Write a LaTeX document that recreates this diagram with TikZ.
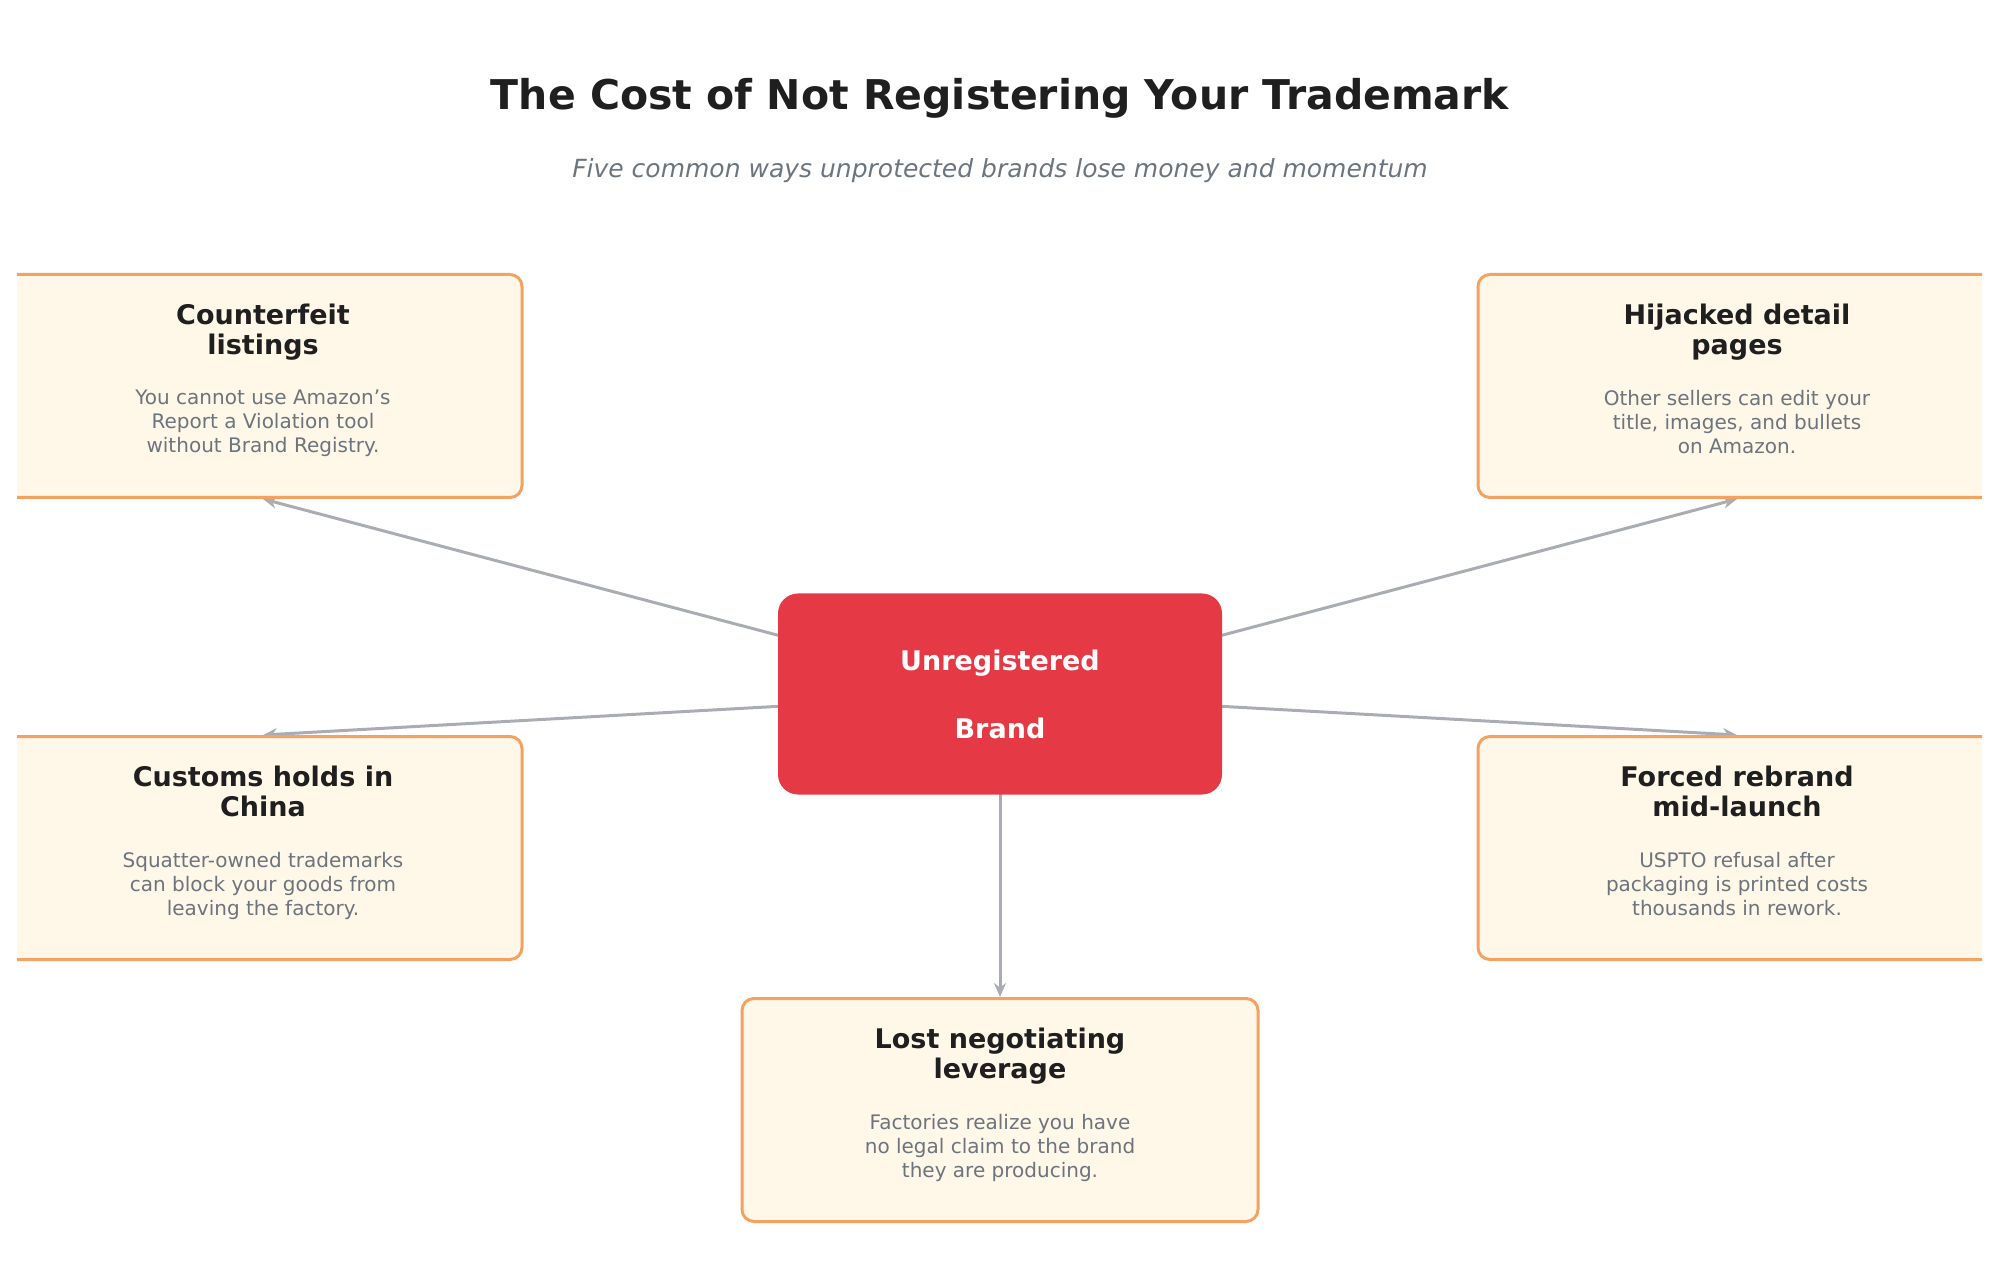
\documentclass[tikz,border=0pt]{standalone}
\usepackage{fontspec}
\setmainfont{DejaVu Sans}
\usetikzlibrary{positioning,arrows.meta,backgrounds}
\definecolor{cardline}{HTML}{F4A261}
\definecolor{cardfill}{HTML}{FFF7E8}
\definecolor{brandred}{HTML}{E63946}
\definecolor{linkgray}{HTML}{A9ADB3}
\definecolor{bodygray}{HTML}{6C757D}
\definecolor{inkdark}{HTML}{1F1F1F}
\begin{document}
\begin{tikzpicture}[%
x=0.5pt, y=-0.5pt,
>={Stealth[length=7pt,width=6pt]},
card/.style={draw=cardline, line width=1.5pt, fill=cardfill, rounded corners=6pt,
  minimum width=259pt, minimum height=111.5pt, inner sep=0pt},
cardtitle/.style={font=\fontsize{13.5}{15}\selectfont\bfseries, text=inkdark, align=center},
cardtext/.style={font=\fontsize{10}{12}\selectfont, text=bodygray, align=center},
link/.style={->, draw=linkgray, line width=1.5pt}
]
\useasboundingbox (0,0) rectangle (1999,1267);
\clip (17,0) rectangle (1982,1267);

% heading
\node[font=\fontsize{20.5}{24}\selectfont\bfseries, text=inkdark] (title) at (1000,98)
  {The Cost of Not Registering Your Trademark};
\node[font=\fontsize{12.5}{15}\selectfont\itshape, text=bodygray] (subtitle) at (1000,171)
  {Five common ways unprotected brands lose money and momentum};

% centre
\node[fill=brandred, rounded corners=10pt, minimum width=222pt, minimum height=100.5pt,
  text=white, align=center, font=\fontsize{13.5}{34}\selectfont\bfseries] (brand) at (1000,694)
  {Unregistered\\Brand};

% cards
\node[card] (fake) at (263,386) {};
\node[card] (hijack) at (1737,386) {};
\node[card] (customs) at (263,848) {};
\node[card] (rebrand) at (1737,848) {};
\node[card, minimum width=258pt] (leverage) at (1000,1110) {};

\node[cardtitle, below=12pt of fake.north] {Counterfeit\\listings};
\node[cardtext, below=55pt of fake.north] {You cannot use Amazon's\\Report a Violation tool\\without Brand Registry.};
\node[cardtitle, below=12pt of hijack.north] {Hijacked detail\\pages};
\node[cardtext, below=55pt of hijack.north] {Other sellers can edit your\\title, images, and bullets\\on Amazon.};
\node[cardtitle, below=12pt of customs.north] {Customs holds in\\China};
\node[cardtext, below=55pt of customs.north] {Squatter-owned trademarks\\can block your goods from\\leaving the factory.};
\node[cardtitle, below=12pt of rebrand.north] {Forced rebrand\\mid-launch};
\node[cardtext, below=55pt of rebrand.north] {USPTO refusal after\\packaging is printed costs\\thousands in rework.};
\node[cardtitle, below=12pt of leverage.north] {Lost negotiating\\leverage};
\node[cardtext, below=55pt of leverage.north] {Factories realize you have\\no legal claim to the brand\\they are producing.};

% links
\begin{scope}[on background layer]
\draw[link] (brand.center) -- (fake.south);
\draw[link] (brand.center) -- (hijack.south);
\draw[link] (brand.center) -- (customs.north);
\draw[link] (brand.center) -- (rebrand.north);
\draw[link] (brand.center) -- (leverage.north);
\end{scope}
\end{tikzpicture}
\end{document}
